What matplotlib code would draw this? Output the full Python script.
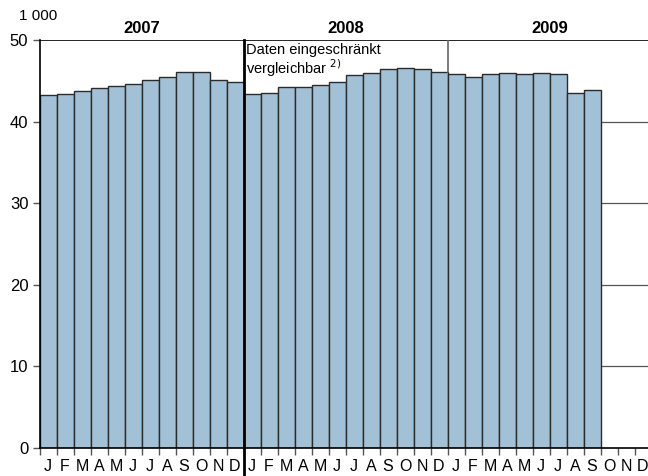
import matplotlib
matplotlib.use('Agg')
import matplotlib.pyplot as plt
import numpy as np

plt.rcParams['font.family'] = ['Liberation Sans', 'DejaVu Sans']

months = ['J', 'F', 'M', 'A', 'M', 'J', 'J', 'A', 'S', 'O', 'N', 'D'] * 3
years = ['2007', '2008', '2009']
# monthly values (1 000), Jan 2007 - Sep 2009
values = [43.2, 43.4, 43.7, 44.1, 44.4, 44.6, 45.1, 45.5, 46.1, 46.1, 45.1, 44.8,
          43.4, 43.5, 44.2, 44.3, 44.5, 44.9, 45.75, 45.9, 46.5, 46.6, 46.4, 46.1,
          45.8, 45.5, 45.8, 46.0, 45.8, 46.0, 45.8, 43.5, 43.9]

fig = plt.figure(figsize=(6.48, 4.76), dpi=100)
ax = fig.add_axes([39.5/648, 28/476, 612/648, 408/476])

x = np.arange(len(values)) + 0.5
ax.bar(x, values, width=1.0, color='#a3c1d6', edgecolor='#2b2b2b', linewidth=1.0, zorder=2)

ax.set_xlim(0, 36)
ax.set_ylim(0, 50)

# gridlines (only visible where there are no bars)
for v in [10, 20, 30, 40]:
    ax.axhline(v, color='#555555', linewidth=0.9, zorder=1)
ax.axhline(50, color='black', linewidth=1.2, zorder=3)

for s in ['top', 'right']:
    ax.spines[s].set_visible(False)
ax.spines['left'].set_linewidth(1.2)
ax.spines['bottom'].set_linewidth(1.2)
ax.spines['bottom'].set_zorder(3)

ax.set_yticks([0, 10, 20, 30, 40, 50])
ax.tick_params(axis='y', length=5, width=1, color='#555555', labelsize=12, pad=3)

ax.set_xticks(np.arange(0, 37))
ax.set_xticklabels([])
ax.set_xticks(np.arange(36) + 0.5, minor=True)
ax.set_xticklabels(months, minor=True)
ax.tick_params(axis='x', which='major', length=5, width=1, color='#555555', direction='out')
ax.tick_params(axis='x', which='minor', length=0, labelsize=11.5, pad=8)

# year separators
ax.plot([12, 12], [50, -3.5], color='black', linewidth=2, clip_on=False, zorder=4)
ax.plot([24, 24], [50, max(values[23], values[24])], color='#666666', linewidth=1.2, zorder=4)

for i, yr in enumerate(years):
    ax.text(12 * i + 6, 50.5, yr, ha='center', va='bottom', fontsize=12, fontweight='bold')

ax.text(-1.2, 52.9, '1 000', ha='left', va='center', fontsize=11)

ax.text(12.15, 49.6, 'Daten eingeschränkt\nvergleichbar $^{2)}$', ha='left', va='top',
        fontsize=10.5, linespacing=1.0)

fig.savefig('out.png', dpi=100)
